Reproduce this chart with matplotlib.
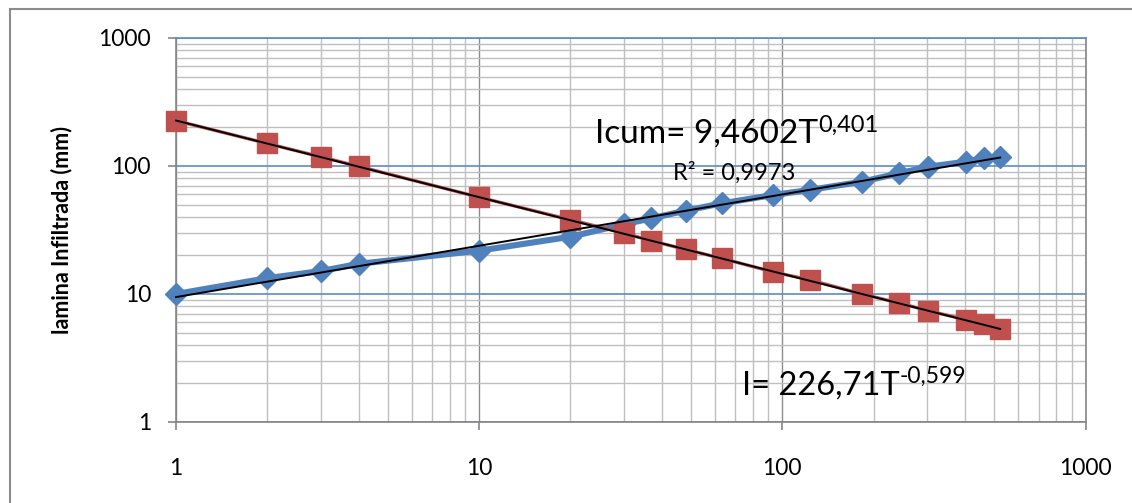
import numpy as np
import matplotlib
matplotlib.use('Agg')
import matplotlib.pyplot as plt
from matplotlib.patches import Rectangle
from matplotlib.ticker import LogLocator, NullFormatter

# tiempo (min), lamina acumulada e infiltracion
t = [1, 2, 3, 4, 10, 20, 30, 37, 48, 63, 93, 123, 183, 243, 303, 403, 463, 523]
icum = [10, 13.3, 15.1, 17.2, 21.8, 28, 35, 39, 44.8, 51, 59.3, 65, 75.4, 87.7, 98.8, 108, 114.7, 118.3]
inf = [226, 150, 118, 99.5, 57, 38, 30, 26, 22.3, 19, 14.9, 12.9, 10, 8.5, 7.4, 6.3, 5.8, 5.35]

# coeficientes de las lineas de tendencia (potencial)
a_cum, b_cum = 9.4602, 0.401
a_inf, b_inf = 226.71, -0.599

plt.rcParams['font.family'] = ['Lato', 'DejaVu Sans']

fig = plt.figure(figsize=(11.32, 5.03), dpi=100)
ax = fig.add_axes([176/1132, 1-422/503, 909.5/1132, 384/503])

blue = '#4F81BD'
red = '#C0504D'

ax.plot(t, icum, color=blue, lw=4.4, marker='D', ms=11, mec=blue, zorder=3, clip_on=False)
ax.plot(t, inf, color=red, lw=2.4, marker='s', ms=14.5, mec=red, zorder=3, clip_on=False)

tx = np.array([t[0], t[-1]], dtype=float)
ax.plot(tx, a_cum * tx**b_cum, color='black', lw=1.4, zorder=4, clip_on=False)
ax.plot(tx, a_inf * tx**b_inf, color='black', lw=1.4, zorder=4, clip_on=False)

ax.set_xscale('log')
ax.set_yscale('log')
ax.set_xlim(1, 1000)
ax.set_ylim(1, 1000)
ax.set_xticks([1, 10, 100, 1000])
ax.set_xticklabels(['1', '10', '100', '1000'])
ax.set_yticks([1, 10, 100, 1000])
ax.set_yticklabels(['1', '10', '100', '1000'])
ax.xaxis.set_minor_locator(LogLocator(base=10, subs=np.arange(2, 10)))
ax.yaxis.set_minor_locator(LogLocator(base=10, subs=np.arange(2, 10)))
ax.xaxis.set_minor_formatter(NullFormatter())
ax.yaxis.set_minor_formatter(NullFormatter())

ax.grid(True, which='minor', axis='both', color='#BFBFBF', lw=1.0)
ax.grid(True, which='major', axis='x', color='#8C8C8C', lw=1.0)
ax.grid(True, which='major', axis='y', color='#5B8BC6', lw=1.2)
ax.set_axisbelow(True)

for s in ['left', 'bottom', 'right']:
    ax.spines[s].set_color('#868686')
    ax.spines[s].set_linewidth(1.2)
ax.spines['top'].set_color('#5B8BC6')
ax.spines['top'].set_linewidth(1.2)

ax.tick_params(which='major', direction='out', length=6, width=1.2, color='#868686',
               labelsize=16.5)
ax.tick_params(axis='y', which='major', pad=12)
ax.tick_params(axis='x', which='major', pad=20)
ax.tick_params(which='minor', length=0)

fig.text(62/1132, 1-230/503, 'lamina Infiltrada (mm)', rotation=90, ha='center',
         va='center', fontsize=15.5, fontweight='bold')

t1 = ax.text(24.1, 152, 'Icum= 9,4602T', fontsize=24, va='baseline', ha='left')
ax.annotate('0,401', xy=(1, 0.57), xycoords=t1, fontsize=17, va='baseline', ha='left')
ax.text(43.7, 78, 'R² = 0,9973', fontsize=17, va='baseline', ha='left')

t2 = ax.text(73.8, 1.626, 'I= 226,71T', fontsize=23.5, va='baseline', ha='left')
ax.annotate('-0,599', xy=(1, 0.6), xycoords=t2, fontsize=16.5, va='baseline', ha='left')

top = 1 - 9/503
fig.patches.append(Rectangle((10/1132, -0.2), 1.2, top + 0.2, transform=fig.transFigure,
                             fill=False, edgecolor='#8C8C8C', lw=1.5))

fig.savefig('out.png', dpi=100)
